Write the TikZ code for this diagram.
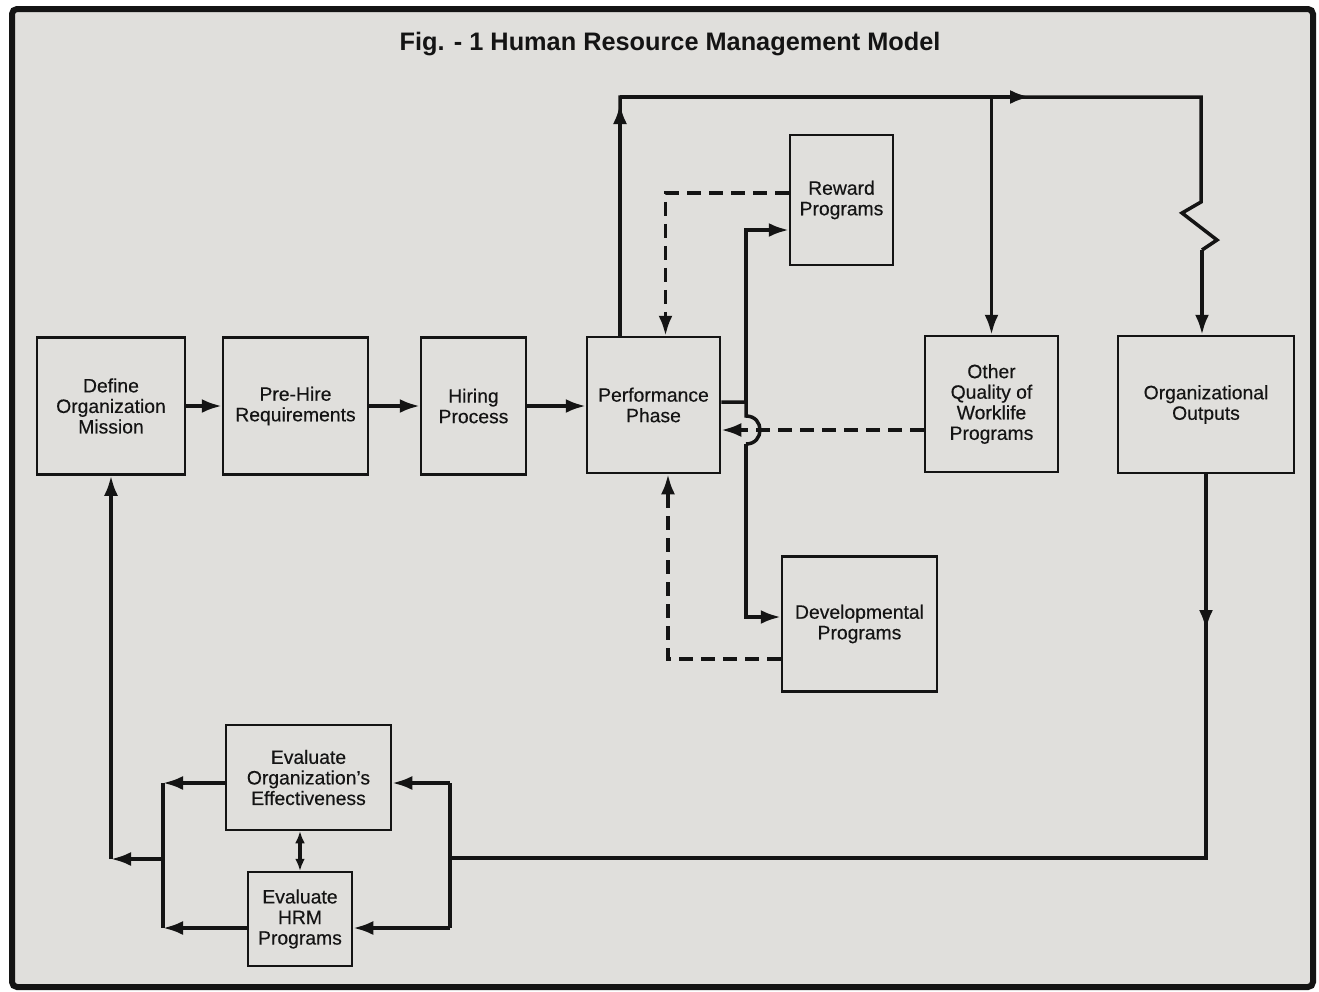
\documentclass[tikz,border=0pt]{standalone}
\usepackage{fontspec}
\setmainfont{Liberation Sans}
\newfontfamily\inkfont[FakeBold=0.4,Ligatures=TeX]{Liberation Sans}
\usepackage{xcolor}
\usepackage{tikz}
\usetikzlibrary{arrows.meta}
\definecolor{paper}{HTML}{E0DFDC}
\definecolor{ink}{HTML}{141414}

\begin{document}
\begin{tikzpicture}[x=0.2mm, y=-0.2mm,
  block/.style={draw=ink, line width=0.5mm, align=center, inner sep=1pt,
    text=ink, font=\inkfont\fontsize{11}{11.7}\selectfont},
  link/.style={draw=ink, line width=0.7mm},
  flow/.style={link, -{Latex[length=4mm,width=2.8mm]}},
  fback/.style={flow, dash pattern=on 2.8mm off 1.6mm},
  heading/.style={text=ink, font=\fontsize{14.4}{16}\selectfont\bfseries}]
  \useasboundingbox (0,0) rectangle (1319,991);
  % page and frame
  \fill[white] (0,0) rectangle (1319,991);
  \draw[draw=ink, line width=1.2mm, fill=paper, rounded corners=1mm] (12,9) rectangle (1313,987);
  \node[heading] (title) at (670,44) {Fig. - 1 Human Resource Management Model};

  % main row of boxes
  \node[block, minimum width=29.6mm, minimum height=27.4mm] (define) at (111,406) {Define\\Organization\\Mission};
  \node[block, minimum width=29mm, minimum height=27.4mm] (prehire) at (295.5,406) {Pre-Hire\\Requirements};
  \node[block, minimum width=21mm, minimum height=27.4mm] (hiring) at (473.5,406) {Hiring\\Process};
  \node[block, minimum width=26.6mm, minimum height=27.2mm] (perf) at (653.5,405) {Performance\\Phase};
  \node[block, minimum width=26.6mm, minimum height=27.2mm] (qwl) at (991.5,404) {Other\\Quality of\\Worklife\\Programs};
  \node[block, minimum width=35.2mm, minimum height=27.4mm] (outputs) at (1206,404.5) {Organizational\\Outputs};

  % programs around the performance phase
  \node[block, minimum width=20.6mm, minimum height=26mm] (reward) at (841.5,200) {Reward\\Programs};
  \node[block, minimum width=31mm, minimum height=27mm] (devel) at (859.5,624) {Developmental\\Programs};

  % evaluation boxes
  \node[block, minimum width=33mm, minimum height=21mm] (evalorg) at (308.5,777.5) {Evaluate\\Organization’s\\Effectiveness};
  \node[block, minimum width=20.8mm, minimum height=18.8mm] (evalhrm) at (300,919) {Evaluate\\HRM\\Programs};

  % hiring chain
  \foreach \a/\b in {define/prehire, prehire/hiring, hiring/perf}
    \draw[flow] (\a.east) -- (\a.east -| \b.west);

  % loop over the top to the outputs
  \coordinate (topL) at (620,97);
  \coordinate (upTip) at (620,104);
  \coordinate (rightTip) at (1030,97);
  \coordinate (topJ) at (qwl.north |- topL);
  \coordinate (topR) at (1201,97);
  \coordinate (zz1) at (1201,202);
  \coordinate (zz2) at (1182,213);
  \coordinate (zz3) at (1217,240);
  \coordinate (zz4) at (1202,250);
  \draw[link] (topL |- perf.north) -- (topL) -- (topR) -- (zz1) -- (zz2) -- (zz3) -- (zz4);
  \draw[flow] (topL |- perf.north) -- (upTip);
  \draw[flow] (topL) -- (rightTip);
  \draw[flow] (zz4) -- (zz4 |- outputs.north);
  \draw[flow] (topJ) -- (qwl.north);

  % performance phase out to the programs (with hop)
  \coordinate (bus) at (746,402);
  \coordinate (hopA) at (746,416);
  \coordinate (hopB) at (746,444);
  \draw[link] ([yshift=0.6mm]perf.east) -- (bus);
  \draw[flow] (bus) |- ([yshift=-6mm]reward.west);
  \draw[link] (bus) -- (hopA) .. controls (764.7,416) and (764.7,444) .. (hopB);
  \draw[flow] (hopB) |- ([yshift=1.4mm]devel.west);

  % feedback into the performance phase
  \coordinate (qwlin) at ([yshift=-5.2mm]qwl.west);
  \draw[fback] ([yshift=1.4mm]reward.west) -| ([xshift=2.4mm]perf.north);
  \draw[fback] (qwlin) -- (qwlin -| perf.east);
  \draw[fback] ([yshift=-7mm]devel.west) -| ([xshift=2.9mm]perf.south);

  % outputs back to the evaluation
  \coordinate (downTip) at (1206,630);
  \coordinate (retR) at (1206,858);
  \coordinate (retL) at (450,858);
  \coordinate (orgin) at ([yshift=-1.1mm]evalorg.east);
  \coordinate (hrmin) at ([yshift=-1.8mm]evalhrm.east);
  \draw[link] (outputs.south) -- (retR) -- (retL);
  \draw[flow] (outputs.south) -- (downTip);
  \draw[link] (retL |- orgin) -- (retL |- hrmin);
  \draw[flow] (retL |- orgin) -- (orgin);
  \draw[flow] (retL |- hrmin) -- (hrmin);
  \draw[link, {Latex[length=2.4mm,width=2mm]}-{Latex[length=2.4mm,width=2mm]}] (evalhrm.north) -- (evalhrm.north |- evalorg.south);

  % evaluation back to the mission
  \coordinate (orgout) at ([yshift=-1.1mm]evalorg.west);
  \coordinate (hrmout) at ([yshift=-1.8mm]evalhrm.west);
  \coordinate (lbus) at (163,859);
  \coordinate (lcorner) at (111,859);
  \draw[flow] (orgout) -- (lbus |- orgout);
  \draw[flow] (hrmout) -- (lbus |- hrmout);
  \draw[link] (lbus |- orgout) -- (lbus |- hrmout);
  \draw[flow] (lbus) -- (lcorner);
  \draw[flow] (lcorner) -- (define.south);
\end{tikzpicture}
\end{document}
